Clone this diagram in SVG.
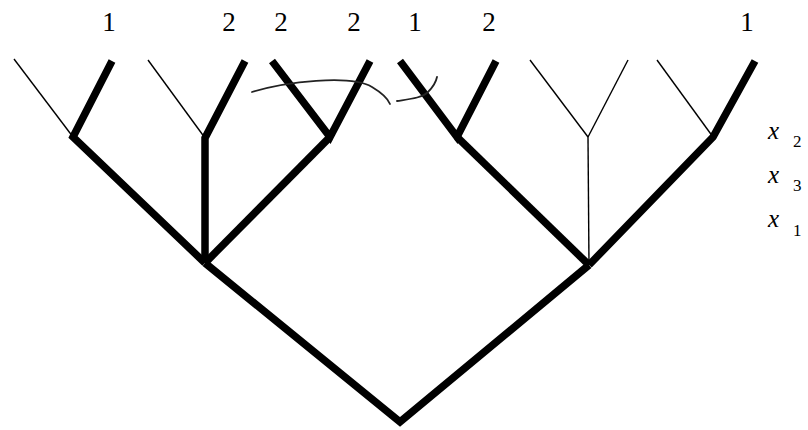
<svg xmlns="http://www.w3.org/2000/svg" width="808" height="430" viewBox="0 0 808 430">
<style>
.thick{fill:none;stroke:#000;stroke-width:7.5;stroke-linejoin:miter;stroke-linecap:butt}
.thin{fill:none;stroke:#000;stroke-width:1.4;stroke-linecap:butt}
.curve{fill:none;stroke:#222;stroke-width:1.8;stroke-linecap:round}
text{font-family:"Liberation Serif","DejaVu Serif",serif;fill:#000}
.lbl{font-size:27px;text-anchor:middle}
.var{font-size:25px;font-style:italic}
.sub{font-size:17px}
</style>
<rect width="808" height="430" fill="#fff"/>
<g id="connectors">
<polyline class="thick" points="205,263 400,422 589,265"/>
<polyline class="thick" points="112,61 73,137 205,263"/>
<line class="thin" x1="14" y1="59" x2="73" y2="137"/>
<polyline class="thick" points="245,61 205,138 205,263"/>
<line class="thin" x1="148" y1="60" x2="205" y2="138"/>
<polyline class="thick" points="272,61 330,137 370,61"/>
<line class="thick" x1="330" y1="137" x2="205" y2="263"/>
<polyline class="thick" points="400,61 457,137 496,61"/>
<line class="thick" x1="457" y1="137" x2="589" y2="265"/>
<line class="thin" x1="530" y1="60" x2="588" y2="137"/>
<line class="thin" x1="628" y1="60" x2="588" y2="137"/>
<line class="thin" x1="588" y1="137" x2="589" y2="265"/>
<polyline class="thick" points="755,61 713,137 589,265"/>
<line class="thin" x1="657" y1="60" x2="713" y2="137"/>
<path class="curve" d="M252,92 C285,82 350,74 372,87 C382,93 388,99 390,104"/>
<path class="curve" d="M397,101 C410,99 422,98 428,92 C433,87 436,82 437,77"/>
</g>
<g id="leaf-labels">
<text class="lbl" x="109" y="31">1</text>
<text class="lbl" x="229" y="31">2</text>
<text class="lbl" x="281" y="31">2</text>
<text class="lbl" x="354" y="31">2</text>
<text class="lbl" x="415" y="31">1</text>
<text class="lbl" x="489" y="31">2</text>
<text class="lbl" x="747" y="31">1</text>
</g>
<g id="level-x2"><text class="var" x="768" y="139">x</text><text class="sub" x="793" y="147">2</text></g>
<g id="level-x3"><text class="var" x="768" y="183">x</text><text class="sub" x="793" y="191">3</text></g>
<g id="level-x1"><text class="var" x="768" y="227">x</text><text class="sub" x="793" y="236">1</text></g>
</svg>
